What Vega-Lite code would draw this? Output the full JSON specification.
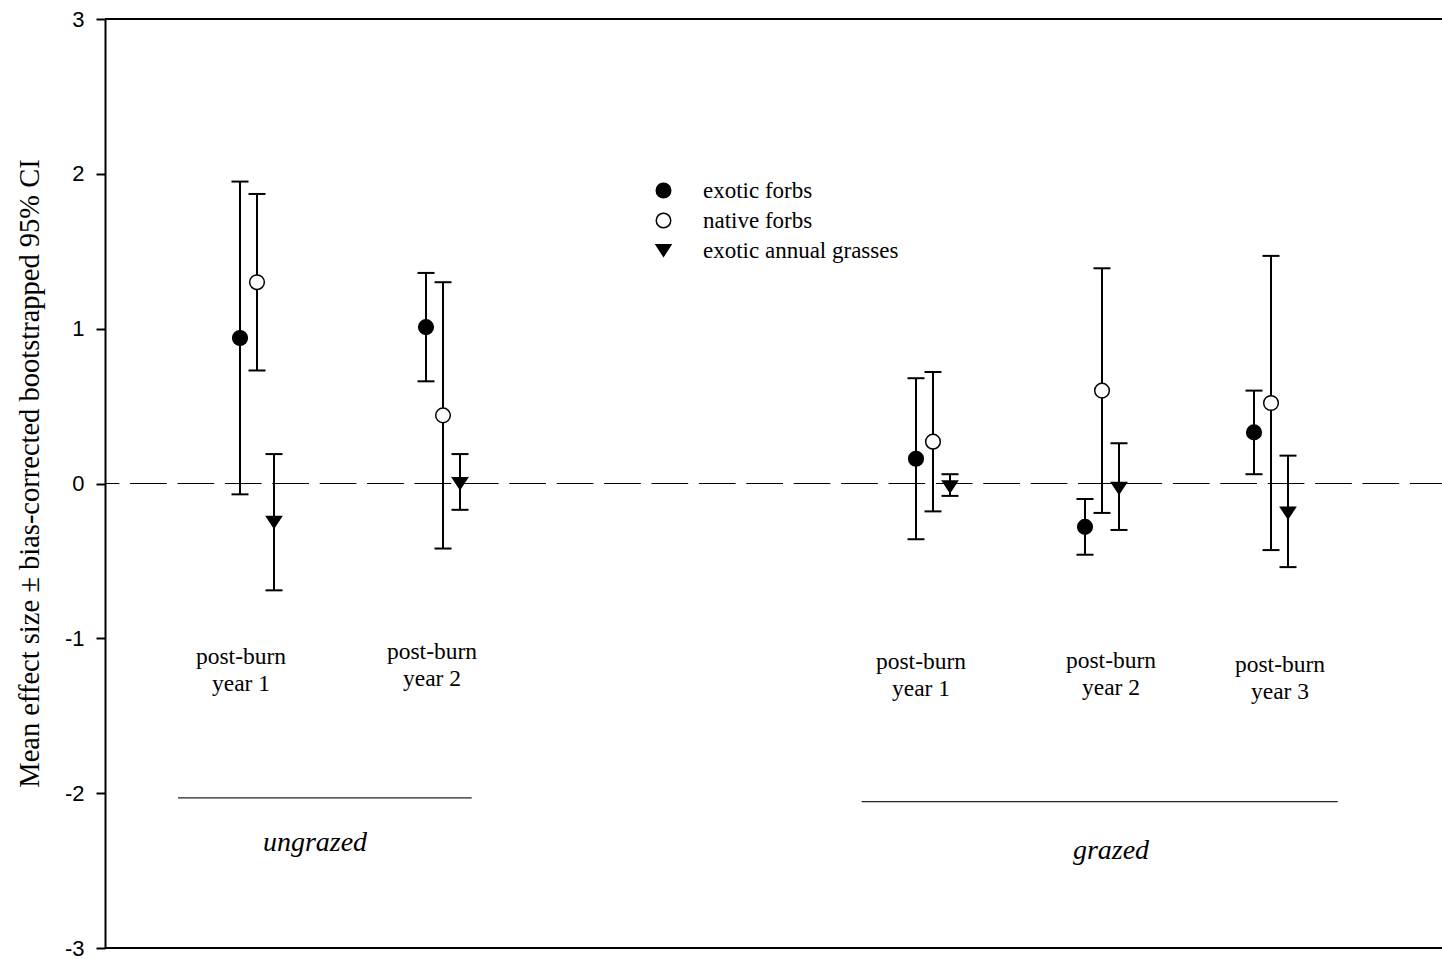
{
  "$schema": "https://vega.github.io/schema/vega-lite/v6.json",
  "autosize": {"type": "none"},
  "padding": {"left": 105, "top": 19, "right": 0, "bottom": 11},
  "width": 1337,
  "height": 929,
  "background": "white",
  "config": {
    "view": {"stroke": null},
    "axisY": {
      "titleFont": "Liberation Serif",
      "titleFontSize": 28.5,
      "titleFontWeight": "normal",
      "titleColor": "black",
      "titleAngle": -90,
      "titleAlign": "center",
      "titleBaseline": "alphabetic",
      "titleX": -67,
      "titleY": 454,
      "labelFont": "Liberation Sans",
      "labelFontSize": 22,
      "labelColor": "black",
      "labelPadding": 12,
      "labelFlush": false,
      "labelOverlap": false,
      "domainColor": "black",
      "domainWidth": 2,
      "tickColor": "black",
      "tickWidth": 2,
      "tickSize": 9,
      "grid": false
    },
    "legend": {
      "orient": "none",
      "legendX": 547,
      "legendY": 160,
      "padding": 0,
      "labelFont": "Liberation Serif",
      "labelFontSize": 23,
      "labelColor": "black",
      "labelOffset": 28,
      "labelLimit": 0,
      "rowPadding": 6,
      "symbolSize": 210,
      "symbolStrokeWidth": 1.5,
      "symbolStrokeColor": "black",
      "title": null
    }
  },
  "datasets": {
    "effects": [
      {"period": "ungrazed year 1", "species": "exotic forbs", "pos": 1.35, "mean": 0.94, "lo": -0.07, "hi": 1.95},
      {"period": "ungrazed year 1", "species": "native forbs", "pos": 1.52, "mean": 1.30, "lo": 0.73, "hi": 1.87},
      {"period": "ungrazed year 1", "species": "exotic annual grasses", "pos": 1.69, "mean": -0.25, "lo": -0.69, "hi": 0.19},
      {"period": "ungrazed year 2", "species": "exotic forbs", "pos": 3.21, "mean": 1.01, "lo": 0.66, "hi": 1.36},
      {"period": "ungrazed year 2", "species": "native forbs", "pos": 3.38, "mean": 0.44, "lo": -0.42, "hi": 1.30},
      {"period": "ungrazed year 2", "species": "exotic annual grasses", "pos": 3.55, "mean": 0.00, "lo": -0.17, "hi": 0.19},
      {"period": "grazed year 1", "species": "exotic forbs", "pos": 8.11, "mean": 0.16, "lo": -0.36, "hi": 0.68},
      {"period": "grazed year 1", "species": "native forbs", "pos": 8.28, "mean": 0.27, "lo": -0.18, "hi": 0.72},
      {"period": "grazed year 1", "species": "exotic annual grasses", "pos": 8.45, "mean": -0.02, "lo": -0.08, "hi": 0.06},
      {"period": "grazed year 2", "species": "exotic forbs", "pos": 9.80, "mean": -0.28, "lo": -0.46, "hi": -0.10},
      {"period": "grazed year 2", "species": "native forbs", "pos": 9.97, "mean": 0.60, "lo": -0.19, "hi": 1.39},
      {"period": "grazed year 2", "species": "exotic annual grasses", "pos": 10.14, "mean": -0.03, "lo": -0.30, "hi": 0.26},
      {"period": "grazed year 3", "species": "exotic forbs", "pos": 11.49, "mean": 0.33, "lo": 0.06, "hi": 0.60},
      {"period": "grazed year 3", "species": "native forbs", "pos": 11.66, "mean": 0.52, "lo": -0.43, "hi": 1.47},
      {"period": "grazed year 3", "species": "exotic annual grasses", "pos": 11.83, "mean": -0.19, "lo": -0.54, "hi": 0.18}
    ],
    "periodLabels": [
      {"label": "post-burn\nyear 1", "pos": 1.36, "y": -1.121},
      {"label": "post-burn\nyear 2", "pos": 3.27, "y": -1.088},
      {"label": "post-burn\nyear 1", "pos": 8.16, "y": -1.153},
      {"label": "post-burn\nyear 2", "pos": 10.06, "y": -1.146},
      {"label": "post-burn\nyear 3", "pos": 11.75, "y": -1.172}
    ],
    "groups": [
      {"group": "ungrazed", "start": 0.73, "end": 3.667, "liney": -2.031, "mid": 2.10, "texty": -2.322},
      {"group": "grazed", "start": 7.567, "end": 12.327, "liney": -2.055, "mid": 10.06, "texty": -2.374}
    ]
  },
  "layer": [
    {
      "data": {"values": [{"ref": 0}]},
      "mark": {"type": "rule", "color": "black", "strokeWidth": 1.2, "strokeDash": [36.7, 10.7], "strokeDashOffset": 4.6},
      "encoding": {
        "y": {"field": "ref", "type": "quantitative", "scale": {"domain": [-3, 3], "nice": false, "zero": false}, "title": "Mean effect size ± bias-corrected bootstrapped 95% CI", "axis": {"values": [-3, -2, -1, 0, 1, 2, 3], "labelExpr": "'' + datum.value"}}
      }
    },
    {
      "data": {"values": [{"edge": 3}, {"edge": -3}]},
      "mark": {"type": "rule", "color": "black", "strokeWidth": 2},
      "encoding": {
        "y": {"field": "edge", "type": "quantitative", "title": "Mean effect size ± bias-corrected bootstrapped 95% CI", "axis": {"values": [-3, -2, -1, 0, 1, 2, 3], "labelExpr": "'' + datum.value"}}
      }
    },
    {
      "data": {"name": "groups"},
      "mark": {"type": "rule", "color": "#222222", "strokeWidth": 1.2},
      "encoding": {
        "x": {"field": "start", "type": "quantitative", "scale": {"domain": [0, 13.37], "nice": false, "zero": false}, "axis": null},
        "x2": {"field": "end"},
        "y": {"field": "liney", "type": "quantitative", "title": "Mean effect size ± bias-corrected bootstrapped 95% CI", "axis": {"values": [-3, -2, -1, 0, 1, 2, 3], "labelExpr": "'' + datum.value"}}
      }
    },
    {
      "data": {"name": "groups"},
      "mark": {"type": "text", "font": "Liberation Serif", "fontStyle": "italic", "fontSize": 28, "color": "black", "align": "center", "baseline": "middle"},
      "encoding": {
        "x": {"field": "mid", "type": "quantitative", "axis": null},
        "y": {"field": "texty", "type": "quantitative", "title": "Mean effect size ± bias-corrected bootstrapped 95% CI", "axis": {"values": [-3, -2, -1, 0, 1, 2, 3], "labelExpr": "'' + datum.value"}},
        "text": {"field": "group", "type": "nominal"}
      }
    },
    {
      "data": {"name": "periodLabels"},
      "mark": {"type": "text", "font": "Liberation Serif", "fontSize": 23.5, "color": "black", "align": "center", "baseline": "middle", "lineBreak": "\n", "lineHeight": 27},
      "encoding": {
        "x": {"field": "pos", "type": "quantitative", "axis": null},
        "y": {"field": "y", "type": "quantitative", "title": "Mean effect size ± bias-corrected bootstrapped 95% CI", "axis": {"values": [-3, -2, -1, 0, 1, 2, 3], "labelExpr": "'' + datum.value"}},
        "text": {"field": "label", "type": "nominal"}
      }
    },
    {
      "data": {"name": "effects"},
      "mark": {"type": "rule", "color": "black", "strokeWidth": 2},
      "encoding": {
        "x": {"field": "pos", "type": "quantitative", "axis": null},
        "y": {"field": "lo", "type": "quantitative", "title": "Mean effect size ± bias-corrected bootstrapped 95% CI", "axis": {"values": [-3, -2, -1, 0, 1, 2, 3], "labelExpr": "'' + datum.value"}},
        "y2": {"field": "hi"}
      }
    },
    {
      "data": {"name": "effects"},
      "mark": {"type": "tick", "orient": "horizontal", "color": "black", "size": 17, "thickness": 2, "opacity": 1},
      "encoding": {
        "x": {"field": "pos", "type": "quantitative", "axis": null},
        "y": {"field": "hi", "type": "quantitative", "title": "Mean effect size ± bias-corrected bootstrapped 95% CI", "axis": {"values": [-3, -2, -1, 0, 1, 2, 3], "labelExpr": "'' + datum.value"}}
      }
    },
    {
      "data": {"name": "effects"},
      "mark": {"type": "tick", "orient": "horizontal", "color": "black", "size": 17, "thickness": 2, "opacity": 1},
      "encoding": {
        "x": {"field": "pos", "type": "quantitative", "axis": null},
        "y": {"field": "lo", "type": "quantitative", "title": "Mean effect size ± bias-corrected bootstrapped 95% CI", "axis": {"values": [-3, -2, -1, 0, 1, 2, 3], "labelExpr": "'' + datum.value"}}
      }
    },
    {
      "data": {"name": "effects"},
      "mark": {"type": "point", "filled": true, "size": 215, "strokeWidth": 1.5, "opacity": 1},
      "encoding": {
        "x": {"field": "pos", "type": "quantitative", "axis": null},
        "y": {"field": "mean", "type": "quantitative", "title": "Mean effect size ± bias-corrected bootstrapped 95% CI", "axis": {"values": [-3, -2, -1, 0, 1, 2, 3], "labelExpr": "'' + datum.value"}},
        "shape": {
          "field": "species",
          "type": "nominal",
          "scale": {"domain": ["exotic forbs", "native forbs", "exotic annual grasses"], "range": ["circle", "circle", "M-1.02,-0.78L1.02,-0.78L0,0.78Z"]}
        },
        "fill": {
          "field": "species",
          "type": "nominal",
          "scale": {"domain": ["exotic forbs", "native forbs", "exotic annual grasses"], "range": ["black", "white", "black"]}
        },
        "stroke": {
          "field": "species",
          "type": "nominal",
          "scale": {"domain": ["exotic forbs", "native forbs", "exotic annual grasses"], "range": ["black", "black", "black"]}
        }
      }
    }
  ]
}
